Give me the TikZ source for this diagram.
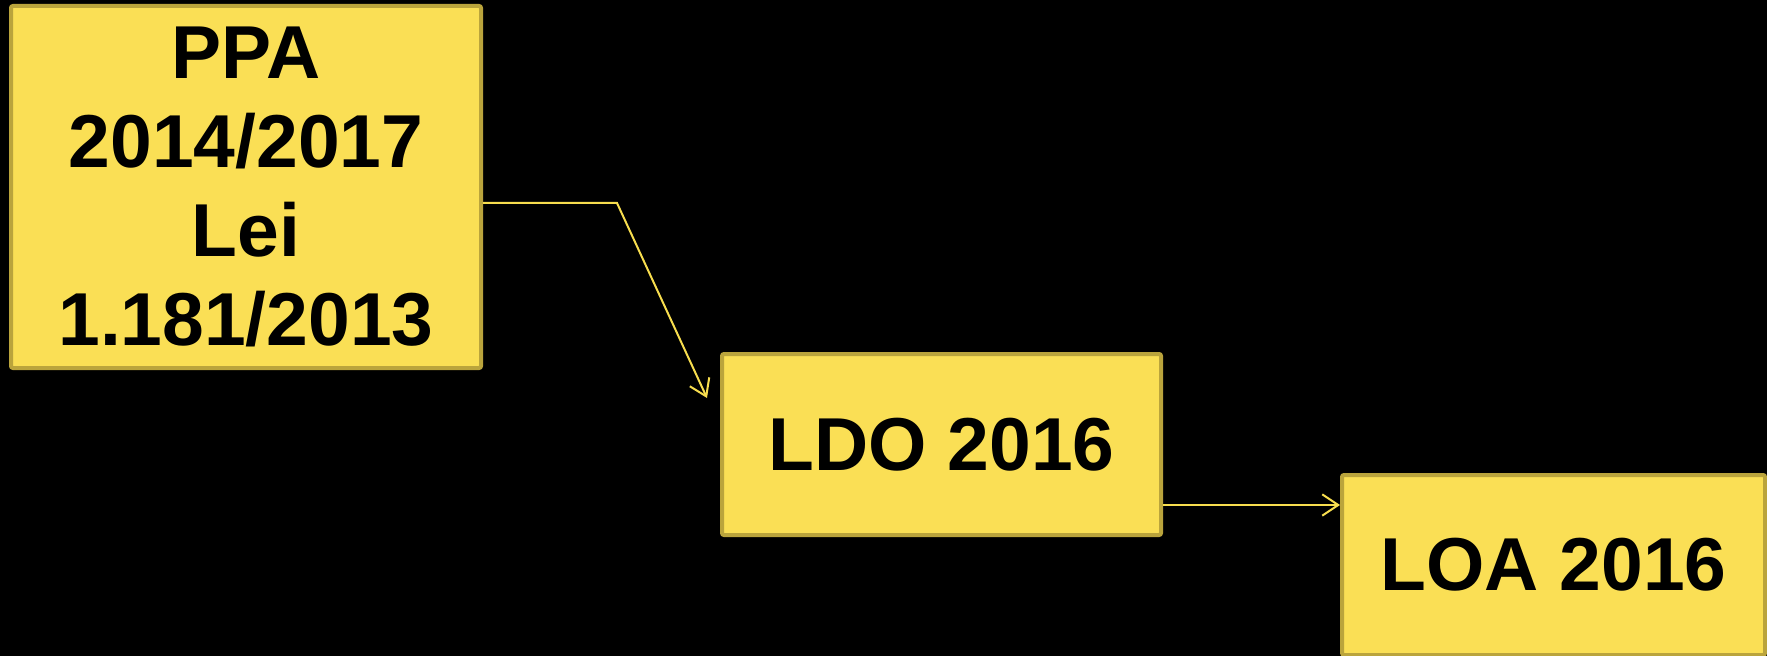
\documentclass[tikz,border=0pt]{standalone}
\usepackage{fontspec}
\setmainfont{Liberation Sans}
\usetikzlibrary{arrows.meta}
\definecolor{boxfill}{RGB}{250,223,85}
\definecolor{boxedge}{RGB}{186,164,60}
\definecolor{arrowcol}{RGB}{247,221,78}
\tikzset{
  yellowbox/.style={draw=boxedge, fill=boxfill, line width=3pt, rounded corners=1.5pt,
    inner sep=0pt, align=center, text=black,
    font=\fontsize{56.25}{66.75}\selectfont\bfseries},
  link/.style={draw=arrowcol, line width=1.5pt,
    -{Straight Barb[length=12pt,width=16pt,line width=1.5pt]}}
}
\begin{document}
\begin{tikzpicture}[x=0.75pt,y=-0.75pt]
\fill[black] (0,0) rectangle (1767,656);
\useasboundingbox (0,0) rectangle (1767,656);
\node[yellowbox, minimum width=470*0.75pt, minimum height=362*0.75pt] (ppa) at (246,187)
  {PPA\\2014/2017\\Lei\\1.181/2013};
\node[yellowbox, minimum width=439*0.75pt, minimum height=181*0.75pt] (ldo) at (941.5,444.5)
  {LDO 2016};
\node[yellowbox, minimum width=423*0.75pt, minimum height=180*0.75pt] (loa) at (1553.5,565)
  {LOA 2016};
\coordinate (bend) at (617,203);
\coordinate (tip1) at (707,398);
\draw[link] (ppa.east |- bend) -- (bend) -- (tip1);
\coordinate (out2) at (ldo.east |- 0,505);
\draw[link] (out2) -- (loa.west |- out2);
\end{tikzpicture}
\end{document}
